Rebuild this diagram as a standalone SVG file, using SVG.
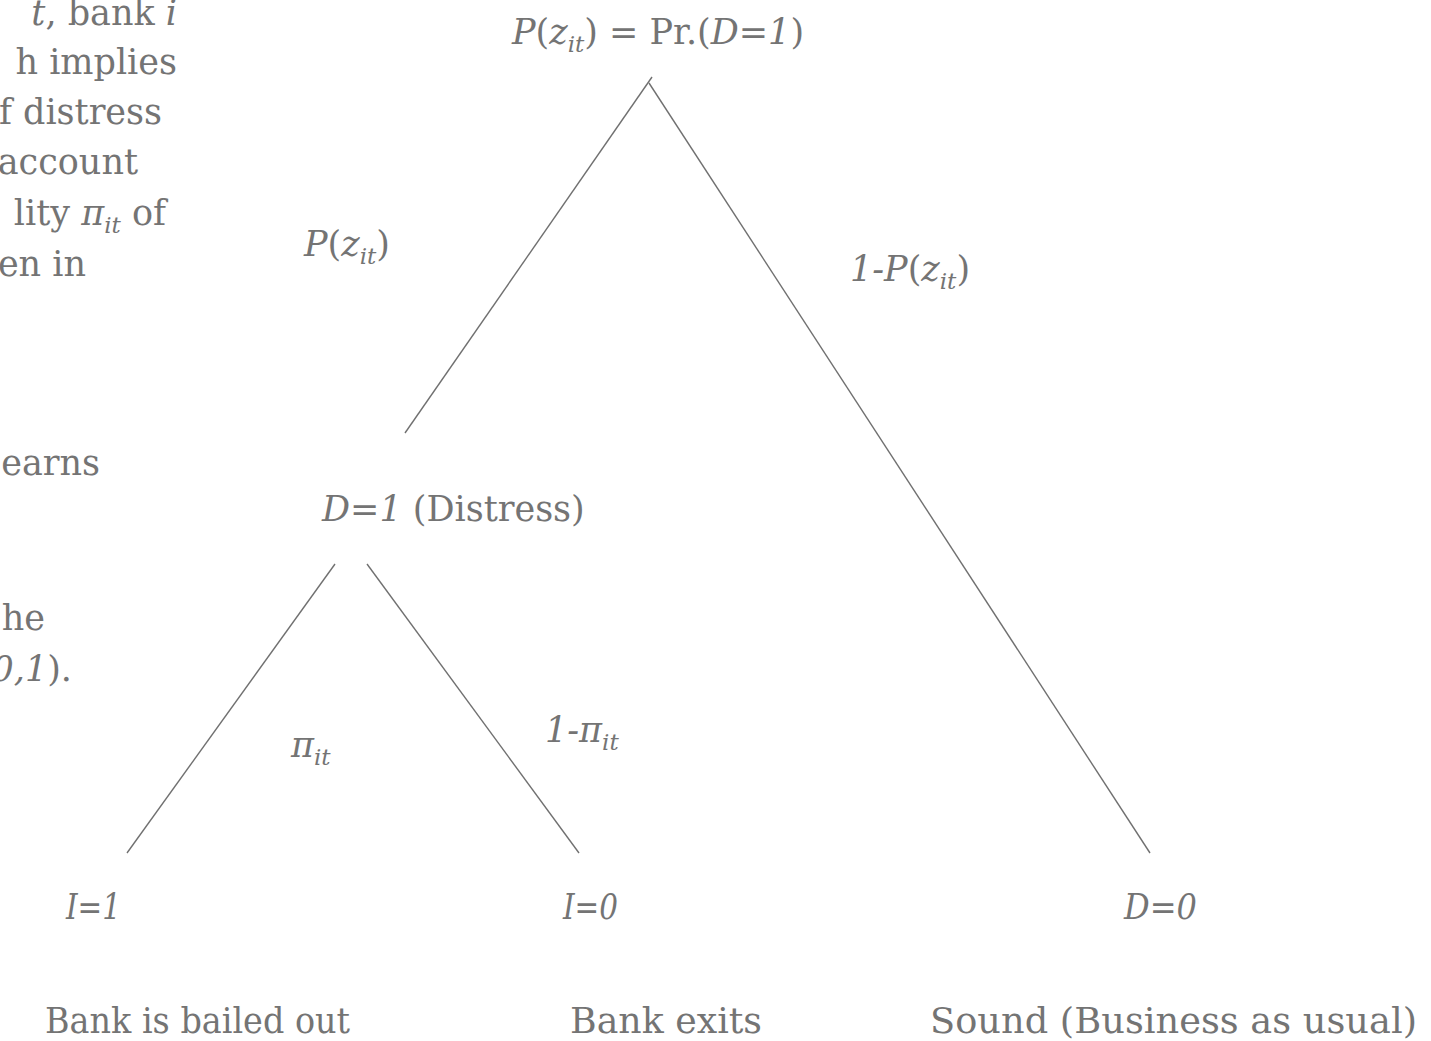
<svg xmlns="http://www.w3.org/2000/svg" width="1431" height="1041" viewBox="0 0 1431 1041">
<style>
text{font-family:"DejaVu Serif","Liberation Serif",serif;font-size:35px;fill:#747474}
.i{font-style:italic}
.sub{font-size:23px;font-style:italic}
.edge{stroke:#707070;stroke-width:1.4;fill:none}
</style>
<rect width="1431" height="1041" fill="#ffffff"/>
<g id="side-text" text-anchor="end">
<text x="177" y="25"><tspan class="i">t</tspan>, bank <tspan class="i">i</tspan></text>
<text x="177" y="74">h implies</text>
<text x="162" y="124">f distress</text>
<text x="138" y="174">account</text>
<text x="166" y="225">lity <tspan class="i">π</tspan><tspan class="sub" dy="8">it</tspan><tspan dy="-8"> of</tspan></text>
<text x="86" y="276">en in</text>
<text x="100" y="475">earns</text>
<text x="45" y="630">he</text>
<text x="72" y="681"><tspan class="i">0,1</tspan>).</text>
</g>
<g id="connectors">
<line class="edge" x1="652" y1="77" x2="405" y2="433"/>
<line class="edge" x1="649" y1="83" x2="1150" y2="853"/>
<line class="edge" x1="335" y1="564" x2="127" y2="853"/>
<line class="edge" x1="367" y1="564" x2="579" y2="853"/>
</g>
<g id="root"><text x="512" y="44"><tspan class="i">P</tspan>(<tspan class="i">z</tspan><tspan class="sub" dy="8">it</tspan><tspan dy="-8">) = Pr.(</tspan><tspan class="i">D=1</tspan>)</text></g>
<g id="label-pz"><text x="304" y="256"><tspan class="i">P</tspan>(<tspan class="i">z</tspan><tspan class="sub" dy="8">it</tspan><tspan dy="-8">)</tspan></text></g>
<g id="label-1pz"><text x="850" y="281"><tspan class="i">1-P</tspan>(<tspan class="i">z</tspan><tspan class="sub" dy="8">it</tspan><tspan dy="-8">)</tspan></text></g>
<g id="distress"><text x="322" y="521"><tspan class="i">D=1</tspan> (Distress)</text></g>
<g id="label-pi"><text x="291" y="757"><tspan class="i">π</tspan><tspan class="sub" dy="8">it</tspan></text></g>
<g id="label-1pi"><text x="545" y="742"><tspan class="i">1-π</tspan><tspan class="sub" dy="8">it</tspan></text></g>
<g id="leaf-i1"><text x="66" y="919" class="i" textLength="55" lengthAdjust="spacingAndGlyphs">I=1</text><text x="45" y="1033" textLength="305" lengthAdjust="spacingAndGlyphs">Bank is bailed out</text></g>
<g id="leaf-i0"><text x="563" y="919" class="i" textLength="55" lengthAdjust="spacingAndGlyphs">I=0</text><text x="570" y="1033" textLength="192" lengthAdjust="spacingAndGlyphs">Bank exits</text></g>
<g id="leaf-d0"><text x="1124" y="919" class="i" textLength="73" lengthAdjust="spacingAndGlyphs">D=0</text><text x="930" y="1033" textLength="487" lengthAdjust="spacingAndGlyphs">Sound (Business as usual)</text></g>
</svg>
